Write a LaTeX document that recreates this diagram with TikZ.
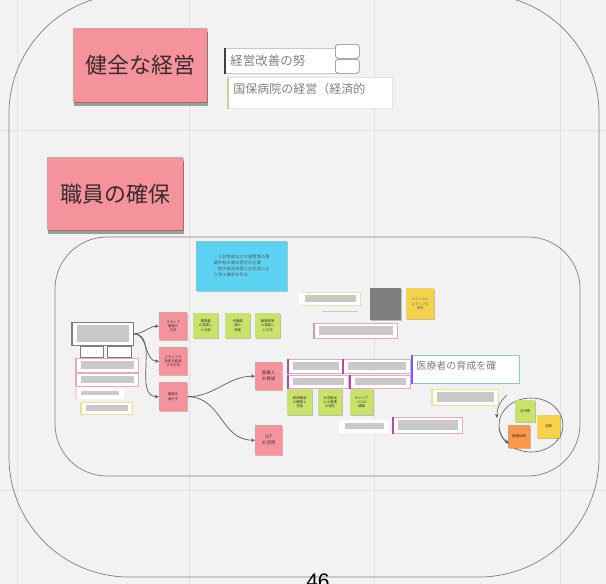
\documentclass[tikz,border=0pt]{standalone}
\usepackage{fontspec}
\setmainfont{Noto Sans CJK JP}
\newfontfamily\numfont{Liberation Sans}
\usetikzlibrary{shadows,arrows.meta,shapes.geometric}
\definecolor{bg}{HTML}{F2F2F2}
\definecolor{gridc}{HTML}{E3E3E3}
\definecolor{pinks}{HTML}{F4939C}
\definecolor{bluest}{HTML}{5CD2F2}
\definecolor{greens}{HTML}{C8E26A}
\definecolor{yellows}{HTML}{F6D14A}
\definecolor{oranges}{HTML}{F7984C}
\definecolor{darkg}{HTML}{7E7E7E}
\definecolor{barg}{HTML}{C9C9C9}
\definecolor{txtg}{HTML}{808080}
\definecolor{pinkb}{HTML}{E8A6C8}
\definecolor{purpb}{HTML}{B04FA0}
\definecolor{greenb}{HTML}{B9DC8A}
\definecolor{yellowb}{HTML}{F1DE8E}
\definecolor{blueb}{HTML}{8CC4EE}
\definecolor{lineg}{HTML}{5A5A5A}
\definecolor{inkc}{HTML}{3A2C2E}
\newcommand{\barbox}[7]{%
  \node[boxst, draw=#6, minimum width=#4pt, minimum height=#5pt] (#1) at (#2,#3) {};
  \node[barst, minimum width={#4pt-9pt}, minimum height={#5pt-6pt}] (#1bar) at (#1.center) {};
  \draw[line width=1.4pt, #7] (#1.north west) -- (#1.south west);
}
\tikzset{
  boxst/.style={fill=white, anchor=north west, inner sep=0pt, line width=0.6pt},
  barst/.style={fill=barg, inner sep=0pt},
  sticky/.style={anchor=north west, inner sep=0.5pt, align=center, text=inkc,
    font=\fontsize{3.4}{4.2}\selectfont,
    drop shadow={shadow xshift=0.4pt, shadow yshift=-1.2pt, opacity=0.22, fill=black}},
  bigsticky/.style={sticky, fill=pinks, font=\fontsize{22}{24}\selectfont,
    drop shadow={shadow xshift=1pt, shadow yshift=-4pt, opacity=0.35, fill=black}},
  conn/.style={draw=lineg, line width=0.7pt, -{Stealth[length=4pt,width=3.5pt]}},
}
\begin{document}
\begin{tikzpicture}[x=1pt,y=-1pt]
\useasboundingbox (0,0) rectangle (606,584);
\clip (0,0) rectangle (606,584);
\fill[bg] (0,0) rectangle (606,584);
% faint grid
\foreach \gx in {17,189,374,560} \draw[gridc, line width=0.8pt] (\gx,0) -- (\gx,584);
\foreach \gy in {130,490} \draw[gridc, line width=0.8pt] (0,\gy) -- (606,\gy);
% outer and inner frames
\draw[draw=darkg, line width=0.7pt, rounded corners=120pt] (9,-6) rectangle (599,577);
\draw[draw=darkg, line width=0.7pt, rounded corners=52pt] (55,237) rectangle (580,476);
% page number
\node[font=\numfont\fontsize{21}{22}\selectfont, text=black] (pnum) at (318,581) {46};

% top section
\node[bigsticky, minimum width=134pt, minimum height=74pt] (keiei) at (73,28) {健全な経営};
\node[boxst, draw=barg, minimum width=110pt, minimum height=25pt, text=txtg,
  font=\fontsize{12.5}{13}\selectfont, text width=104pt, align=left, inner xsep=5pt] (kaizen) at (225,48) {経営改善の努};
\draw[line width=2pt, draw=black!75] (kaizen.north west) -- (kaizen.south west);
\node[boxst, draw=darkg, rounded corners=3pt, minimum width=24pt, minimum height=14pt] (sqa) at (335,44) {};
\node[boxst, draw=darkg, rounded corners=3pt, minimum width=24pt, minimum height=14pt] (sqb) at (335,59) {};
\node[boxst, draw=white!90!black, minimum width=160pt, minimum height=31pt, text=txtg,
  font=\fontsize{12}{13}\selectfont, text width=154pt, align=left, inner xsep=5pt, inner ysep=3pt] (kokuho) at (228,77) {国保病院の経営（経済的\\[-4pt]\mbox{}};
\draw[line width=1.2pt, draw=greenb] (kokuho.north west) -- (kokuho.south west);

\node[bigsticky, minimum width=136pt, minimum height=73pt] (shokuin) at (47,157) {職員の確保};

% blue sticky
\node[sticky, fill=bluest, minimum width=91pt, minimum height=50pt, font=\fontsize{4.3}{6}\selectfont, align=left, text=inkc!80] (blue) at (196,241)
  {・人材育成などの施策等の意\\識共有の場の設定が必要\\・他の自治体等との交流によ\\り学ぶ機会を作る};

% upper right cluster
\barbox{gba}{300}{292}{60}{13}{greenb!60!white}{white}
\fill[barg] (322,310.5) rectangle (358,311.8);
\node[sticky, fill=darkg, minimum width=31pt, minimum height=32pt] (dsq) at (370,288) {};
\node[sticky, fill=yellows, minimum width=28pt, minimum height=31pt, text=inkc!70] (ysa) at (406,288) {メディカル\\スタッフの\\確保};
\barbox{pba}{314}{323}{83}{15}{pinkb}{purpb!60}

% left cluster
\barbox{lbox}{72}{322}{61}{23}{darkg}{darkg}
\node[boxst, draw=darkg, minimum width=23pt, minimum height=11pt] (sba) at (80,346) {};
\node[boxst, draw=darkg, minimum width=24pt, minimum height=11pt] (sbb) at (107,346) {};
\barbox{pbb}{76}{358}{62}{14}{pinkb}{pinkb}
\barbox{pbc}{76}{373}{62}{13}{pinkb}{pinkb}
\barbox{wbd}{76}{388}{47}{10}{white}{pinkb!50}
\barbox{ybe}{81}{402}{51}{12}{yellowb}{yellowb}

% pink stickies
\node[sticky, fill=pinks, minimum width=28pt, minimum height=28pt] (sa) at (159,312) {スタッフ\\確保の\\方法};
\node[sticky, fill=pinks, minimum width=28pt, minimum height=28pt] (sb) at (159,347) {スタッフの\\負担を軽減\\する方法};
\node[sticky, fill=pinks, minimum width=28pt, minimum height=29pt] (sc) at (159,382) {職員を\\増やす};
\node[sticky, fill=greens, minimum width=25pt, minimum height=25pt] (ga) at (193,313) {業務量\\の見直し\\と分担};
\node[sticky, fill=greens, minimum width=25pt, minimum height=25pt] (gb) at (225,313) {労働環\\境の\\改善};
\node[sticky, fill=greens, minimum width=25pt, minimum height=25pt] (gc) at (255,313) {勤務体制\\の見直し\\と工夫};
\node[sticky, fill=pinks, minimum width=27pt, minimum height=28pt, font=\fontsize{4.5}{6}\selectfont] (iryo) at (255,362) {医療人\\の育成};
\node[sticky, fill=pinks, minimum width=27pt, minimum height=30pt, font=\fontsize{4.5}{6}\selectfont] (ict) at (255,425) {ICT\\の活用};

% connectors
\draw[conn] (lbox.east) to[out=0, in=180] (sa.west);
\draw[conn] (lbox.east) to[out=0, in=180] (sb.west);
\draw[conn] (lbox.east) to[out=0, in=180] (sc.west);
\draw[conn] (sc.east) to[out=0, in=180] (iryo.west);
\draw[conn] (sc.east) to[out=0, in=180, looseness=1.1] (ict.west);

% middle-right cluster
\barbox{rba}{288}{359}{55}{14}{pinkb}{purpb}
\barbox{rbb}{343}{359}{67}{14}{pinkb}{purpb}
\barbox{rbc}{288}{375}{60}{13}{pinkb}{purpb}
\barbox{rbd}{350}{375}{60}{13}{pinkb}{purpb}
\node[boxst, draw=blueb, minimum width=105pt, minimum height=28pt, text=txtg,
  font=\fontsize{10}{11}\selectfont, text width=99pt, align=left, inner xsep=4pt] (ikusei) at (412,355) {医療者の育成を確\\[-3pt]\mbox{}};
\draw[line width=1.4pt, draw=blue!60] (ikusei.north west) -- (ikusei.south west);
\node[sticky, fill=greens, minimum width=25pt, minimum height=26pt] (gga) at (287,389) {研修機会\\の確保と\\充実};
\node[sticky, fill=greens, minimum width=24pt, minimum height=26pt] (ggb) at (318,389) {大学医局\\との連携\\の強化};
\node[sticky, fill=greens, minimum width=23pt, minimum height=26pt] (ggc) at (350,389) {キャリア\\パスの\\構築};
\barbox{wbe}{340}{420}{48}{12}{white}{white}
\barbox{pbf}{393}{417}{69}{16}{pinkb}{purpb}
\barbox{ybg}{432}{389}{66}{16}{yellowb}{yellowb}

% cycle ellipse
\node[draw=lineg, line width=0.6pt, ellipse, minimum width=64pt, minimum height=54pt, inner sep=0pt] (cyc) at (531,425) {};
\node[sticky, fill=greens, minimum width=20pt, minimum height=22pt] (cga) at (515,400) {法令等};
\node[sticky, fill=yellows, minimum width=23pt, minimum height=23pt] (cya) at (537,415) {記録};
\node[sticky, fill=oranges, minimum width=22pt, minimum height=23pt] (coa) at (508,425) {勤務体制};
\coordinate (cua) at (507,395);
\coordinate (cub) at (497,418);
\coordinate (cuc) at (499,429);
\coordinate (cud) at (509,443);
\draw[conn, line width=0.6pt] (cua) to[bend right=25] (cub);
\draw[conn, line width=0.6pt] (cuc) to[bend right=25] (cud);
\end{tikzpicture}
\end{document}
